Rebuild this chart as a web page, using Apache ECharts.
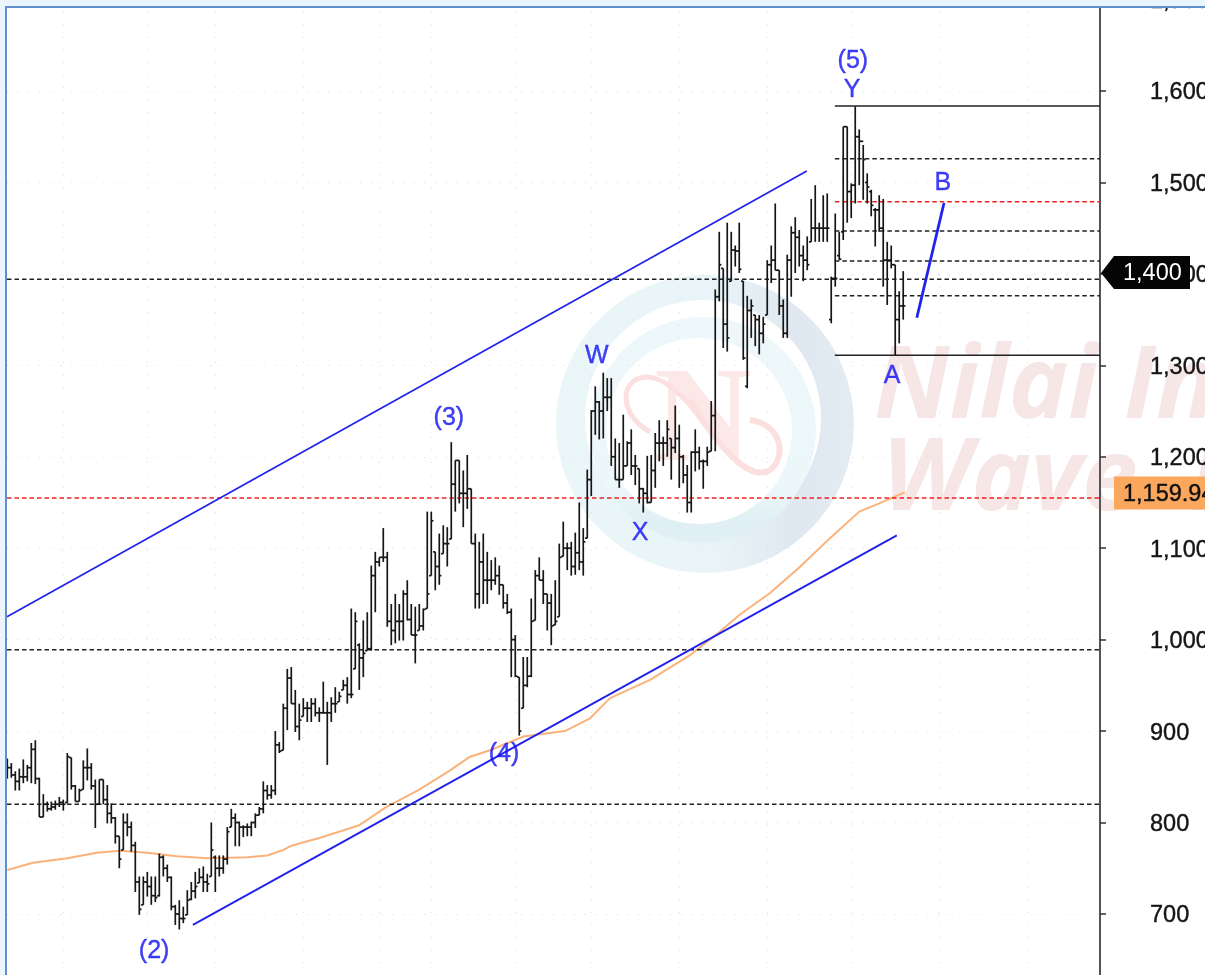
<!DOCTYPE html>
<html lang="en">
<head>
    <meta charset="UTF-8">
    <title>Elliott wave chart</title>
    <script src='https://cdn.jsdelivr.net/npm/echarts@6/dist/echarts.min.js'></script>
    <style>
        html, body { margin: 0; padding: 0; background: #fff; overflow: hidden; }
    </style>
</head>
<body>
<div id="chart" style="width: 1205px;height: 975px"></div>

<script>
    // OHLC bars, one entry per trading bar
    let highs = [
        870,865,856,859,869,863,887,890,849,831,
        823,823,824,828,825,876,871,841,837,868,
        881,865,847,847,847,841,821,806,785,810,
        810,801,779,741,741,746,741,741,766,764,
        754,741,710,715,708,726,735,746,750,752,
        744,800,764,764,764,795,815,810,801,797,
        799,801,810,817,845,841,841,900,888,930,
        968,970,945,930,936,932,936,936,926,954,
        932,937,948,943,956,959,1034,1030,996,1021,
        1030,1081,1096,1090,1122,1096,1039,1050,1039,1054,
        1065,1039,1036,1039,1034,1140,1140,1096,1116,1125,
        1123,1216,1196,1196,1185,1202,1165,1116,1107,1116,
        1096,1087,1090,1081,1060,1050,1034,1005,959,981,
        981,1045,1076,1090,1076,1050,1050,1065,1105,1129,
        1106,1107,1117,1150,1122,1186,1251,1277,1261,1292,
        1286,1286,1220,1215,1246,1217,1230,1202,1187,1166,
        1201,1202,1226,1240,1222,1240,1220,1256,1235,1202,
        1191,1206,1230,1211,1197,1211,1261,1383,1446,1406,
        1456,1446,1431,1456,1392,1376,1372,1355,1355,1353,
        1415,1431,1477,1404,1372,1421,1452,1462,1448,1431,
        1441,1482,1497,1456,1486,1488,1397,1466,1446,1561,
        1561,1499,1583,1558,1541,1510,1492,1472,1486,1482,
        1435,1431,1410,1381,1403
    ];
    let lows = [
        848,849,835,835,843,845,843,842,806,806,
        812,813,814,817,813,821,836,823,823,836,
        846,836,794,820,820,799,799,777,750,770,
        785,768,724,699,710,719,710,713,719,741,
        735,704,688,683,690,699,715,717,734,724,
        724,741,724,741,744,754,795,774,774,784,
        785,785,794,808,810,825,826,830,876,879,
        901,930,899,890,916,910,910,916,910,919,
        863,910,920,932,945,930,936,968,945,959,
        988,988,1030,1080,1085,1014,994,996,999,999,
        1021,1005,974,1010,1010,1034,1070,1054,1060,1094,
        1080,1110,1140,1149,1123,1143,1105,1034,1034,1039,
        1039,1054,1060,1049,1034,1028,959,959,895,925,
        948,959,1021,1065,1039,1010,994,1016,1025,1091,
        1076,1070,1071,1076,1070,1111,1157,1224,1219,1220,
        1250,1190,1175,1166,1175,1190,1180,1169,1149,1139,
        1149,1150,1166,1195,1190,1200,1175,1204,1166,1171,
        1139,1139,1184,1186,1165,1190,1206,1206,1370,1319,
        1315,1392,1408,1401,1306,1275,1330,1321,1312,1324,
        1355,1390,1404,1355,1330,1330,1375,1401,1408,1392,
        1404,1435,1435,1435,1435,1435,1346,1386,1415,1437,
        1456,1461,1477,1497,1481,1477,1463,1430,1446,1386,
        1366,1406,1311,1324,1350
    ];
    let closes = [
        860,852,845,850,850,860,880,848,806,820,
        815,817,820,822,820,872,840,823,835,860,
        860,840,820,847,825,810,805,785,760,800,
        795,775,735,705,735,730,720,718,762,750,
        740,708,700,695,695,715,725,730,740,735,
        733,770,750,750,760,790,805,800,795,795,
        795,800,808,815,835,830,835,885,878,925,
        958,930,905,912,925,925,930,920,920,920,
        920,930,930,938,950,940,940,1020,980,985,
        990,1070,1085,1090,1090,1020,1010,1020,1020,1050,
        1022,1005,1005,1015,1033,1050,1130,1080,1070,1105,
        1105,1170,1196,1160,1160,1165,1105,1050,1085,1065,
        1065,1065,1070,1060,1040,1030,1000,960,900,950,
        960,1020,1070,1065,1050,1040,1015,1020,1090,1100,
        1100,1080,1095,1085,1107,1175,1250,1260,1250,1265,
        1265,1200,1175,1175,1190,1215,1190,1190,1165,1160,
        1150,1185,1215,1215,1215,1230,1210,1220,1200,1180,
        1150,1205,1205,1195,1195,1205,1245,1375,1410,1345,
        1330,1426,1425,1405,1308,1360,1365,1350,1335,1345,
        1410,1415,1404,1365,1335,1415,1445,1440,1420,1415,
        1410,1450,1450,1450,1450,1450,1395,1395,1416,1561,
        1490,1497,1550,1545,1525,1495,1475,1470,1450,1415,
        1415,1410,1350,1365,1365
    ];
    let opens = [
        855,860,852,845,850,850,860,880,848,806,
        820,815,817,820,822,822,871,840,823,836,
        860,860,840,820,847,825,810,805,785,770,
        800,795,775,735,710,735,730,720,720,762,
        750,740,708,700,695,699,716,725,734,740,
        735,741,762,750,750,760,795,805,800,795,
        795,795,800,808,815,835,830,835,885,879,
        925,958,930,905,916,925,925,930,920,920,
        920,920,930,932,945,950,940,968,994,980,
        988,990,1070,1085,1090,1090,1020,1010,1020,1020,
        1050,1022,1005,1010,1015,1034,1070,1096,1080,1094,
        1105,1110,1170,1196,1160,1160,1165,1105,1050,1085,
        1065,1065,1065,1070,1060,1040,1030,1000,959,925,
        950,960,1021,1070,1065,1050,1040,1016,1025,1091,
        1100,1100,1080,1095,1085,1111,1175,1250,1260,1250,
        1265,1265,1200,1175,1175,1190,1215,1190,1187,1165,
        1160,1150,1185,1215,1215,1215,1220,1210,1220,1200,
        1180,1150,1205,1205,1195,1195,1206,1245,1375,1406,
        1345,1392,1426,1425,1392,1277,1360,1355,1350,1335,
        1355,1410,1415,1404,1365,1335,1415,1445,1440,1420,
        1415,1435,1450,1450,1450,1450,1350,1395,1420,1446,
        1561,1490,1497,1550,1545,1500,1490,1470,1470,1450,
        1415,1415,1410,1350,1365
    ];

    // moving average, [bar index, value]
    let maIndex = [0,6.4,15,22.4,28.2,35,42.4,50,60,65,69,70.7,73,78,88,94.4,103,110.7,115.7,120.7,129,139.4,145.7,150.7,160.7,170.7,178,183,190.7,198,205.7,213,218,224.4];
    let maValues = [748,756,761,767,769,767,763,761,762,764,770,774,777,783,797,816,836,857,872,879,894,900,914,936,956,983,1008,1027,1051,1079,1111,1140,1149,1161];

    // trend lines, [start index, start value, end index, end value]
    let upperChannel = [-0.08, 1025, 199.9, 1512.5];
    let lowerChannel = [46.4, 688, 222.4, 1114];
    let waveB = [227.4, 1352, 234.2, 1477.5];

    // horizontal levels
    let fullDashedLevels = [1394, 989, 820];
    let fullRedLevels = [1155];
    let fiboSolidLevels = [1583.6, 1311];
    let fiboDashedLevels = [1526, 1447, 1414, 1376];
    let fiboRedLevels = [1479];
    let fiboStart = 206.9;

    // wave labels
    let waveNames = ['(5)', 'Y', 'B', 'A', 'W', 'X', '(3)', '(4)', '(2)'];
    let waveIndex = [211.4, 211.2, 233.9, 221.2, 147.4, 158.2, 110.4, 124.2, 36.7];
    let waveValues = [1633, 1601, 1499, 1288, 1310, 1117, 1242, 875, 659.5];

    // price tags on the axis
    let lastPrice = 1400;
    let lastPriceText = '1,400';
    let maPrice = 1159.94;
    let maPriceText = '1,159.94';

    // month separators of the dotted grid
    let gridBars = [14, 35, 52, 74, 93, 106, 127, 146, 168, 190, 211, 233, 255];

    const xMin = -0.08, xMax = 273.2;
    const blue = '#2222ee', textBlue = '#1010f5', orange = '#fbb27a';

    function trendSeries(pts, width) {
        return {
            type: 'line', silent: true, symbol: 'none', z: 4,
            lineStyle: { color: blue, width: width },
            data: [[pts[0], pts[1]], [pts[2], pts[3]]]
        };
    }

    function levelSeries(value, start, color, dashed, width) {
        return {
            type: 'line', silent: true, symbol: 'none', z: 3,
            lineStyle: { color: color, width: width, type: dashed ? [4.5, 3] : 'solid' },
            data: [[start, value], [xMax, value]]
        };
    }

    let series = [];
    series.push({
        type: 'line', silent: true, symbol: 'none', z: 3,
        lineStyle: { color: orange, width: 2 },
        data: maIndex.map((x, i) => [x, maValues[i]])
    });
    fullDashedLevels.forEach(v => series.push(levelSeries(v, xMin, '#222', true, 1.5)));
    fullRedLevels.forEach(v => series.push(levelSeries(v, xMin, '#f02020', true, 1.5)));
    fiboSolidLevels.forEach(v => series.push(levelSeries(v, fiboStart, '#222', false, 1.7)));
    fiboDashedLevels.forEach(v => series.push(levelSeries(v, fiboStart, '#222', true, 1.5)));
    fiboRedLevels.forEach(v => series.push(levelSeries(v, fiboStart, '#f02020', true, 1.5)));

    series.push({
        type: 'custom', silent: true, z: 5,
        clip: false,
        encode: { x: 0, y: [1, 2, 3, 4] },
        data: highs.map((h, i) => [i, opens[i], closes[i], lows[i], h]),
        renderItem: function (params, api) {
            let i = api.value(0);
            let o = api.coord([i, api.value(1)]);
            let c = api.coord([i, api.value(2)]);
            let l = api.coord([i, api.value(3)]);
            let h = api.coord([i, api.value(4)]);
            let style = { stroke: '#161616', lineWidth: 1.7 };
            return {
                type: 'group',
                children: [
                    { type: 'line', shape: { x1: h[0], y1: h[1], x2: l[0], y2: l[1] }, style: style },
                    { type: 'line', shape: { x1: o[0] - 2.2, y1: o[1], x2: o[0], y2: o[1] }, style: style },
                    { type: 'line', shape: { x1: c[0], y1: c[1], x2: c[0] + 2.2, y2: c[1] }, style: style }
                ]
            };
        }
    });

    series.push(trendSeries(upperChannel, 1.7));
    series.push(trendSeries(lowerChannel, 1.9));
    series.push(trendSeries(waveB, 2.8));

    series.push({
        type: 'scatter', silent: true, symbolSize: 1, z: 6,
        itemStyle: { color: 'transparent' },
        label: {
            show: true, position: 'inside',
            fontFamily: 'Liberation Sans', fontSize: 25, color: textBlue,
            textBorderColor: textBlue, textBorderWidth: 0.4,
            formatter: p => waveNames[p.dataIndex]
        },
        data: waveIndex.map((x, i) => [x, waveValues[i]])
    });

    // price tags are drawn over the axis labels
    series.push({
        type: 'custom', silent: true, z: 20, clip: false,
        encode: { x: 0, y: 1 },
        data: [[xMax, lastPrice]],
        renderItem: function (params, api) {
            let p = api.coord([api.value(0), api.value(1)]);
            let y = p[1] - 1;
            return {
                type: 'group',
                children: [
                    { type: 'polygon',
                      shape: { points: [[p[0] + 1, y], [p[0] + 14, y - 17], [p[0] + 90, y - 17], [p[0] + 90, y + 16], [p[0] + 14, y + 16]] },
                      style: { fill: '#050505' } },
                    { type: 'text', style: { x: p[0] + 23, y: y + 1, text: lastPriceText, fill: '#fff', font: '23.5px "Liberation Sans"', verticalAlign: 'middle' } }
                ]
            };
        }
    });
    series.push({
        type: 'custom', silent: true, z: 20, clip: false,
        encode: { x: 0, y: 1 },
        data: [[xMax, maPrice]],
        renderItem: function (params, api) {
            let p = api.coord([api.value(0), api.value(1)]);
            return {
                type: 'group',
                children: [
                    { type: 'rect', shape: { x: p[0] + 14, y: p[1] - 17, width: 91, height: 33 }, style: { fill: '#fba75e' } },
                    { type: 'text', style: { x: p[0] + 23, y: p[1] + 1, text: maPriceText, fill: '#111', stroke: '#111', lineWidth: 0.4, font: '23.5px "Liberation Sans"', verticalAlign: 'middle' } }
                ]
            };
        }
    });

    let chart = echarts.init(document.getElementById('chart'));
    chart.setOption({
        animation: false,
        backgroundColor: '#fff',
        grid: { left: 7, top: -0.44, width: 1093, height: 1005.84, outerBoundsMode: 'none' },
        xAxis: {
            type: 'value', min: xMin, max: xMax,
            axisLine: { show: false, onZero: false },
            axisTick: { show: false, customValues: gridBars },
            axisLabel: { show: false },
            splitLine: { show: true, lineStyle: { color: '#d8dcec', width: 1, type: [1, 11.5] } }
        },
        yAxis: {
            type: 'value', position: 'right', min: 600, max: 1700, interval: 100,
            axisLine: { show: true, onZero: false, lineStyle: { color: '#555', width: 2 } },
            axisTick: { show: true, length: 6, lineStyle: { color: '#333', width: 1.5 } },
            axisLabel: {
                margin: 50, fontFamily: 'Liberation Sans', fontSize: 23.5, color: '#151515',
                textBorderColor: '#151515', textBorderWidth: 0.4,
                verticalAlign: 'top', lineHeight: 24, padding: [-10, 0, 0, 0],
                formatter: v => v.toLocaleString('en-US')
            },
            splitLine: { show: true, lineStyle: { color: '#d8dcec', width: 1, type: [1, 9.7] } }
        },
        graphic: [
            // watermark rings
            { type: 'circle', z: -1, shape: { cx: 705, cy: 424, r: 149 },
              style: { fill: new echarts.graphic.LinearGradient(0, 0, 1, 0, [
                  { offset: 0, color: '#ebf6f9' }, { offset: 0.55, color: '#e8f4f7' },
                  { offset: 0.8, color: '#dfe8f0' }, { offset: 1, color: '#e3ecf3' }]) } },
            { type: 'circle', z: -1, shape: { cx: 703, cy: 418, r: 118 }, style: { fill: '#fff' } },
            { type: 'circle', z: -1, shape: { cx: 703, cy: 430, r: 113 },
              style: { fill: new echarts.graphic.LinearGradient(0, 0, 0, 1, [
                  { offset: 0, color: '#eef8fa' }, { offset: 0.75, color: '#ecf7f9' },
                  { offset: 0.92, color: '#dfeff4' }, { offset: 1, color: '#e3f1f5' }]) } },
            { type: 'circle', z: -1, shape: { cx: 699, cy: 431, r: 93 }, style: { fill: '#fff' } },
            // watermark logo
            { type: 'text', z: -1, style: { x: 703, y: 425, text: 'N', align: 'center', verticalAlign: 'middle', font: 'bold 135px "Liberation Serif"', fill: '#fbe8e7' } },
            { type: 'bezierCurve', z: -1, shape: { x1: 705, y1: 425, cpx1: 685, cpy1: 395, cpx2: 660, cpy2: 372, x2: 640, y2: 378 }, style: { fill: 'none', stroke: '#fbe0df', lineWidth: 5 } },
            { type: 'bezierCurve', z: -1, shape: { x1: 640, y1: 378, cpx1: 620, cpy1: 384, cpx2: 620, cpy2: 415, x2: 650, y2: 432 }, style: { fill: 'none', stroke: '#fbe0df', lineWidth: 5 } },
            { type: 'bezierCurve', z: -1, shape: { x1: 690, y1: 400, cpx1: 720, cpy1: 450, cpx2: 750, cpy2: 482, x2: 770, y2: 470 }, style: { fill: 'none', stroke: '#fbe0df', lineWidth: 6 } },
            { type: 'bezierCurve', z: -1, shape: { x1: 770, y1: 470, cpx1: 785, cpy1: 460, cpx2: 785, cpy2: 425, x2: 750, y2: 420 }, style: { fill: 'none', stroke: '#fbe0df', lineWidth: 6 } },
            // watermark text
            { type: 'text', z: -1, style: { x: 874, y: 440, text: 'Nilai In', verticalAlign: 'bottom', font: 'italic bold 100px "Open Sans"', fill: '#f6e6e6' } },
            { type: 'text', z: -1, style: { x: 882, y: 532, text: 'Wave  I', verticalAlign: 'bottom', font: 'italic bold 100px "Open Sans"', fill: '#f6e6e6' } },
            // window frame
            { type: 'rect', z: 100, shape: { x: 0, y: 0, width: 1205, height: 6 }, style: { fill: '#eaf5fc' } },
            { type: 'rect', z: 100, shape: { x: 0, y: 0, width: 5, height: 975 }, style: { fill: '#eaf5fc' } },
            { type: 'rect', z: 101, shape: { x: 5, y: 6, width: 1200, height: 2 }, style: { fill: '#5f8fcf' } },
            { type: 'rect', z: 101, shape: { x: 5, y: 6, width: 2, height: 969 }, style: { fill: '#5f8fcf' } }
        ],
        series: series
    });
</script>
</body>
</html>
